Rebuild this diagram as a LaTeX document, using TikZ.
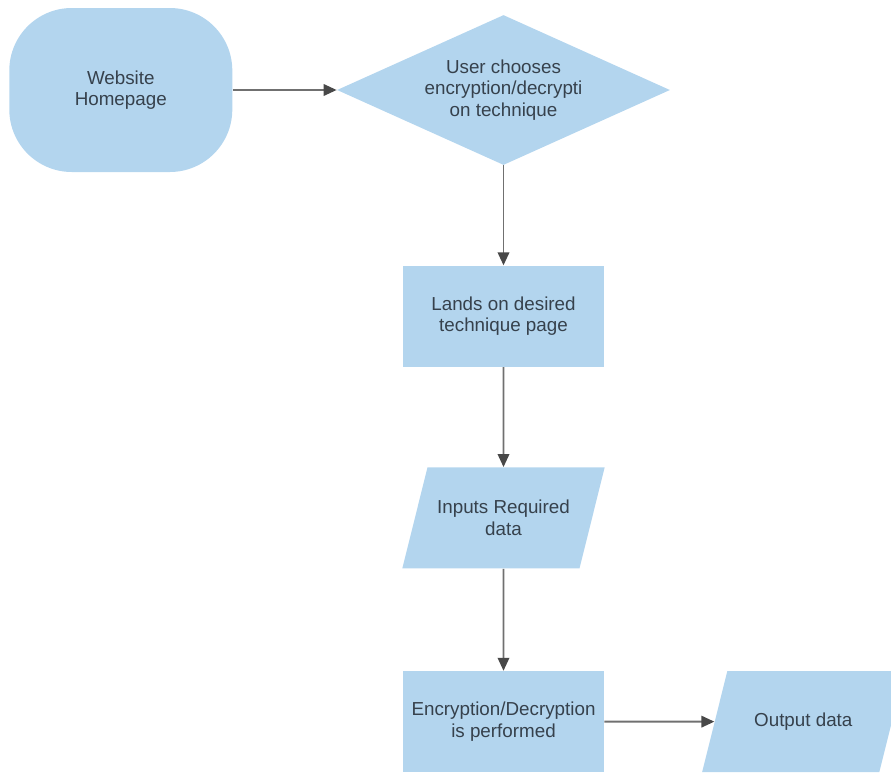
\documentclass[tikz,border=0pt]{standalone}
\usepackage{fontspec}
\setmainfont{Liberation Sans}
\usetikzlibrary{positioning,shapes.geometric,arrows.meta}
\definecolor{boxblue}{HTML}{B3D5EE}
\definecolor{boxtext}{HTML}{36414C}
\definecolor{linegray}{HTML}{707070}
\definecolor{tipgray}{HTML}{484848}
\tikzset{
  box/.style={fill=boxblue, text=boxtext, inner sep=0pt,
    font=\fontsize{10.7}{12.2}\selectfont},
  startbox/.style={box, align=center, rectangle, rounded corners=1.25cm,
    minimum width=4.46cm, minimum height=3.28cm},
  choicebox/.style={box, align=center, diamond, aspect=2.22,
    minimum width=6.66cm, minimum height=3cm},
  stepbox/.style={box, align=center, rectangle, minimum width=4.02cm, minimum height=2.02cm},
  % fixed text box, so the slant stays the same for every parallelogram
  iobox/.style={box, trapezium, trapezium left angle=76, trapezium right angle=104,
    execute at begin node={\begin{minipage}[c][2.02cm][c]{3.04cm}\centering},
    execute at end node={\end{minipage}}},
  flow/.style={draw=linegray, line width=1.1pt,
    -{Triangle[length=2.6mm,width=2.3mm,color=tipgray]}},
}
\begin{document}
\begin{tikzpicture}
  \useasboundingbox (0,0) rectangle (17.82,-15.44);
  \node[choicebox] (choose) at (10.07,-1.8) {User chooses\\encryption/decrypti\\on technique};
  \node[startbox, left=2.08cm of choose] (home) {Website\\Homepage};
  \node[stepbox, below=2cm of choose] (lands) {Lands on desired\\technique page};
  \node[iobox, below=2cm of lands] (inputs) {Inputs Required\\data};
  \node[stepbox, below=2.04cm of inputs] (perform) {Encryption/Decryption\\is performed};
  \node[iobox, right=2.2cm of perform] (output) {Output data};

  \draw[flow] (home) -- (choose);
  \draw[flow] (choose) -- (lands);
  \draw[flow] (lands) -- (inputs);
  \draw[flow] (inputs) -- (perform);
  \draw[flow] (perform) -- (output);
\end{tikzpicture}
\end{document}
